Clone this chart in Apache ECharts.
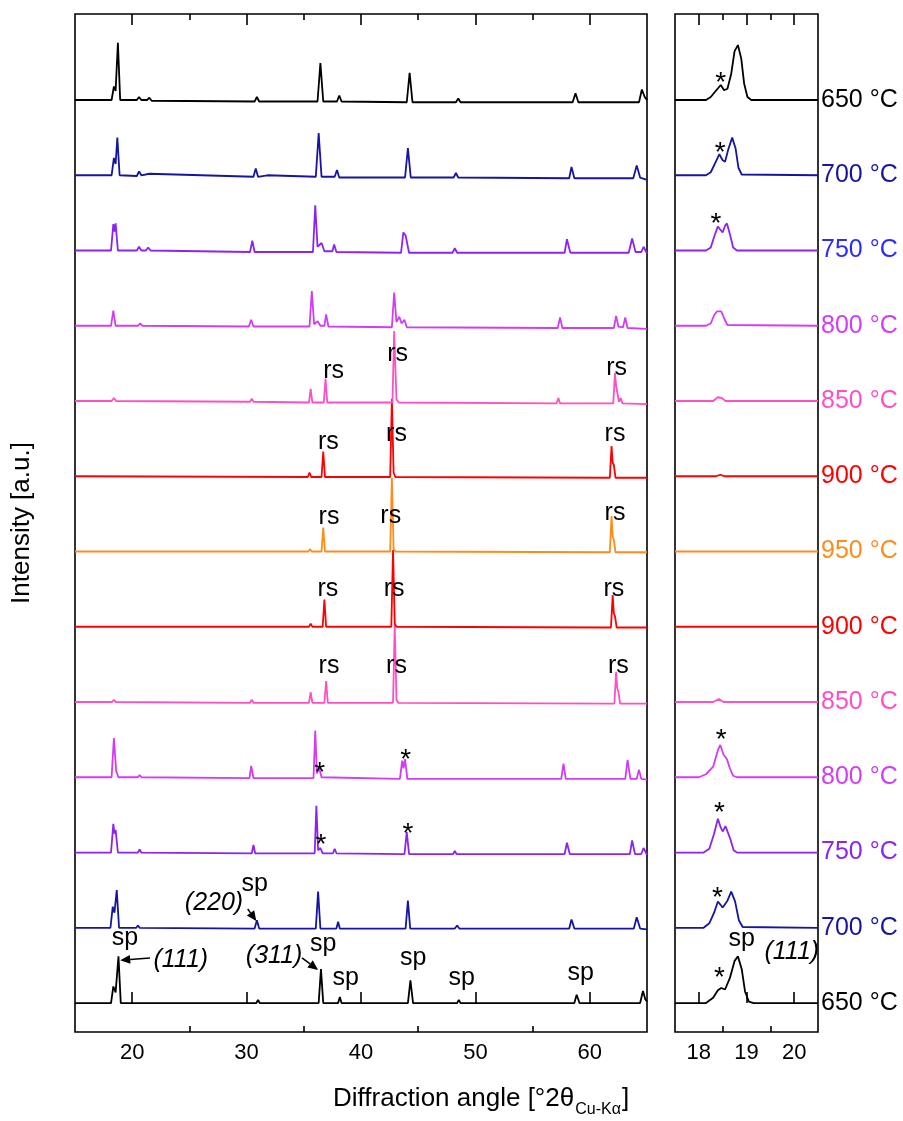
<!DOCTYPE html>
<html><head><meta charset="utf-8">
<script src="https://cdn.jsdelivr.net/npm/echarts@6/dist/echarts.min.js"></script>
<style>html,body{margin:0;padding:0;background:#fff}#c{width:903px;height:1121px}</style>
</head><body><div id="c"></div>
<script>
// ---------------- DATA (intensity in units of the trace spacing) ----------------
const tempLabels = ['650 °C','700 °C','750 °C','800 °C','850 °C','900 °C','950 °C','900 °C','850 °C','800 °C','750 °C','700 °C','650 °C'];
const lineColors = ['#000000','#1515a0','#8b24f0','#d23cf5','#ff4fc4','#ff0000','#ff8c1a','#ff0000','#ff4fc4','#d23cf5','#8b24f0','#1515a0','#000000'];
const labelColors = ['#000000','#1515a0','#8b24f0','#d23cf5','#ff4fc4','#ff0000','#ff8c1a','#ff0000','#ff4fc4','#d23cf5','#2b2bff','#1515a0','#000000'];

const leftTicksMajor = [20,30,40,50,60];
const leftTicksMinor = [25,35,45,55];
const rightTicksMajor = [18,19,20];
const rightTicksMinor = [18.5,19.5];

// wide-range patterns (bottom to top)
const heat650L = [[15,0],[18.15,0],[18.35,0.22],[18.55,0.14],[18.8,0.62],[19.0,0],[20.6,0],[20.75,0.02],[20.9,0],[30.85,0],[31.0,0.04],[31.15,0],[36.3,0],[36.5,0.45],[36.7,0],[38.0,0],[38.15,0.08],[38.3,0],[44.1,0],[44.32,0.3],[44.55,0],[48.4,0],[48.55,0.04],[48.7,0],[58.65,0],[58.85,0.11],[59.1,0],[64.4,0],[64.65,0.16],[64.85,0.05],[65,0.02]];
const heat700L = [[15,0],[18.1,0],[18.3,0.28],[18.45,0.2],[18.65,0.5],[18.85,0],[20.35,0],[20.5,0.03],[20.65,0],[30.7,-0.01],[30.9,0.1],[31.1,-0.01],[36.05,-0.01],[36.25,0.48],[36.45,-0.01],[37.85,-0.01],[38.0,0.08],[38.15,-0.01],[43.9,-0.01],[44.1,0.36],[44.3,-0.01],[48.2,-0.01],[48.4,0.03],[48.6,-0.01],[58.2,-0.01],[58.4,0.11],[58.65,-0.01],[63.85,-0.01],[64.1,0.14],[64.4,-0.01],[65,-0.02]];
const heat750L = [[15,0],[18.15,0],[18.35,0.38],[18.45,0.25],[18.55,0.3],[18.75,0],[20.5,0],[20.65,0.04],[20.8,0],[30.45,-0.01],[30.6,0.1],[30.75,-0.01],[35.95,-0.01],[36.1,0.62],[36.25,0.03],[36.45,0.06],[36.65,-0.01],[37.55,-0.01],[37.7,0.05],[37.85,-0.01],[43.8,-0.02],[44.0,0.27],[44.2,-0.02],[48.05,-0.02],[48.2,0.02],[48.35,-0.02],[57.8,-0.02],[58.0,0.13],[58.25,-0.02],[63.5,-0.02],[63.7,0.16],[63.95,-0.02],[64.5,-0.02],[64.7,0.06],[65,-0.03]];
const heat800L = [[15,0],[18.2,0],[18.4,0.52],[18.6,0.08],[18.8,0],[20.5,0],[20.65,0.03],[20.8,0],[30.25,-0.01],[30.4,0.15],[30.6,-0.01],[35.85,-0.01],[36.0,0.62],[36.15,0.05],[36.35,0.12],[36.55,0],[43.4,-0.02],[43.6,0.22],[43.72,0.12],[43.85,0.24],[44.05,-0.02],[57.5,-0.02],[57.7,0.18],[57.9,-0.02],[63.1,-0.02],[63.3,0.23],[63.55,-0.02],[64.1,-0.02],[64.3,0.1],[64.5,-0.02],[65,-0.03]];
const heat850L = [[15,0],[18.25,0],[18.4,0.03],[18.55,0],[30.3,-0.01],[30.45,0.03],[30.6,-0.01],[35.45,-0.01],[35.6,0.13],[35.75,-0.01],[36.8,-0.01],[36.95,0.28],[37.1,-0.01],[42.8,-0.01],[42.95,1.03],[43.1,0.03],[43.25,-0.01],[62.15,-0.02],[62.3,0.4],[62.4,0.18],[62.5,0.14],[62.65,-0.02],[65,-0.02]];
const heat900L = [[15,0],[35.45,0],[35.6,0.04],[35.75,0],[36.65,0],[36.8,0.36],[36.95,0],[42.65,0],[42.8,1.02],[42.95,0.04],[43.1,0],[61.85,-0.01],[62.0,0.42],[62.1,0.18],[62.2,0.14],[62.35,-0.01],[65,-0.01]];
const heat950L = [[15,0],[35.4,0],[35.55,0.03],[35.7,0],[36.55,0],[36.7,0.32],[36.85,0],[42.55,0],[42.7,0.98],[42.85,0.04],[43.0,0],[61.75,-0.01],[61.9,0.47],[62.0,0.2],[62.1,0.15],[62.25,-0.01],[65,-0.01]];
const cool900L = [[15,0],[35.35,-0.01],[35.5,0.05],[35.65,-0.01],[36.55,-0.01],[36.7,0.33],[36.85,-0.01],[42.55,-0.01],[42.7,1.03],[42.85,0.05],[43.0,-0.01],[61.75,-0.02],[61.9,0.4],[62.0,0.18],[62.1,0.15],[62.25,-0.02],[65,-0.02]];
const cool850L = [[15,0],[18.2,0],[18.4,0.04],[18.6,0],[30.3,-0.01],[30.45,0.03],[30.6,-0.01],[35.45,-0.02],[35.6,0.16],[35.75,-0.02],[36.75,-0.02],[36.9,0.3],[37.05,-0.02],[42.75,-0.02],[42.9,0.93],[43.1,0.02],[43.3,-0.02],[57.1,-0.03],[57.25,0.04],[57.4,-0.03],[62.05,-0.03],[62.2,0.37],[62.3,0.2],[62.4,0.18],[62.55,-0.01],[62.7,0.04],[62.85,-0.03],[65,-0.04]];
const cool800L = [[15,0],[18.15,0],[18.35,0.2],[18.55,0],[20.5,0],[20.7,0.03],[20.9,0],[30.2,-0.01],[30.4,0.08],[30.6,-0.01],[35.5,-0.01],[35.7,0.46],[35.9,0.02],[36.2,0.06],[36.45,0.0],[36.8,0],[36.95,0.15],[37.15,-0.01],[42.7,-0.02],[42.9,0.44],[43.1,0.05],[43.35,0.12],[43.55,0.03],[43.8,0.08],[44.0,-0.02],[57.2,-0.03],[57.4,0.11],[57.6,-0.03],[62.1,-0.03],[62.3,0.13],[62.5,-0.01],[62.9,-0.02],[63.1,0.11],[63.3,-0.03],[65,-0.04]];
const cool750L = [[15,0],[18.15,0],[18.35,0.35],[18.45,0.25],[18.55,0.36],[18.75,0],[20.4,0],[20.6,0.05],[20.8,0],[21.2,0],[21.4,0.04],[21.6,0],[30.3,-0.02],[30.5,0.13],[30.7,-0.02],[35.8,-0.02],[36.0,0.6],[36.2,0.05],[36.55,0.1],[36.8,-0.01],[37.5,-0.01],[37.65,0.08],[37.85,-0.02],[43.5,-0.03],[43.7,0.24],[43.9,0.2],[44.2,-0.03],[48.0,-0.03],[48.2,0.03],[48.4,-0.03],[57.8,-0.03],[58.0,0.15],[58.3,-0.03],[63.4,-0.03],[63.7,0.16],[64.0,-0.02],[64.5,-0.02],[64.7,0.05],[65,-0.04]];
const cool700L = [[15,0],[18.2,0],[18.4,0.23],[18.55,0.15],[18.7,0.5],[18.9,0],[20.4,-0.01],[20.6,0.05],[20.8,0],[21.5,0.02],[30.6,-0.02],[30.8,0.09],[31.0,-0.02],[31.8,0],[36.05,-0.02],[36.3,0.56],[36.55,-0.02],[37.7,-0.02],[37.9,0.07],[38.1,-0.03],[43.85,-0.03],[44.1,0.36],[44.35,-0.03],[48.1,-0.03],[48.3,0.03],[48.5,-0.03],[58.2,-0.04],[58.4,0.11],[58.65,-0.04],[63.8,-0.04],[64.1,0.13],[64.4,-0.03],[65,-0.06]];
const cool650L = [[15,0],[18.2,0],[18.4,0.18],[18.55,0.12],[18.75,0.76],[18.95,0],[20.4,0],[20.6,0.04],[20.8,0],[21.3,0],[21.5,0.03],[21.7,-0.01],[30.7,-0.02],[30.9,0.04],[31.1,-0.02],[36.2,-0.02],[36.45,0.49],[36.7,-0.02],[37.9,-0.02],[38.1,0.06],[38.3,-0.02],[44.0,-0.03],[44.25,0.36],[44.5,-0.03],[48.3,-0.03],[48.5,0.02],[48.7,-0.03],[58.5,-0.03],[58.75,0.09],[59.0,-0.03],[64.3,-0.03],[64.55,0.14],[64.8,0.04],[65,0.0]];

// zoomed (111) region patterns (bottom to top)
const heat650R = [[17.5,0],[18.15,0],[18.3,0.07],[18.4,0.17],[18.47,0.2],[18.55,0.18],[18.65,0.33],[18.75,0.56],[18.82,0.62],[18.9,0.45],[18.97,0.15],[19.05,0.02],[19.15,0],[20.5,0]];
const heat700R = [[17.5,0],[18.1,0],[18.22,0.06],[18.32,0.2],[18.4,0.35],[18.5,0.27],[18.6,0.36],[18.68,0.48],[18.76,0.35],[18.84,0.1],[18.92,0.01],[20.5,0]];
const heat750R = [[17.5,0],[18.1,0],[18.22,0.05],[18.32,0.25],[18.4,0.45],[18.46,0.33],[18.5,0.28],[18.56,0.35],[18.6,0.35],[18.66,0.18],[18.73,0.03],[18.8,0],[20.5,0]];
const heat800R = [[17.5,0],[18.0,0],[18.15,0.04],[18.3,0.14],[18.4,0.36],[18.45,0.43],[18.52,0.3],[18.59,0.24],[18.65,0.12],[18.72,0.02],[18.8,0],[20.5,0]];
const heat850R = [[17.5,0],[18.3,0],[18.42,0.04],[18.52,0],[20.5,0]];
const heat900R = [[17.5,0],[20.5,0]];
const heat950R = [[17.5,0],[20.5,0]];
const cool900R = [[17.5,0],[18.35,0],[18.45,0.02],[18.55,0],[20.5,0]];
const cool850R = [[17.5,0],[18.3,0],[18.4,0.05],[18.48,0.04],[18.56,0],[20.5,0]];
const cool800R = [[17.5,0],[18.15,0],[18.25,0.03],[18.32,0.14],[18.38,0.19],[18.47,0.19],[18.53,0.1],[18.6,0.01],[20.5,0]];
const cool750R = [[17.5,0],[18.15,0],[18.25,0.04],[18.33,0.2],[18.4,0.32],[18.46,0.27],[18.5,0.24],[18.55,0.33],[18.59,0.36],[18.65,0.22],[18.72,0.04],[18.8,0],[20.5,0]];
const cool700R = [[17.5,0],[18.15,0],[18.25,0.04],[18.35,0.17],[18.43,0.28],[18.5,0.2],[18.55,0.18],[18.62,0.35],[18.7,0.5],[18.77,0.36],[18.83,0.1],[18.9,0.01],[20.5,0]];
const cool650R = [[17.5,0],[18.15,0],[18.25,0.04],[18.38,0.14],[18.46,0.2],[18.53,0.13],[18.6,0.15],[18.68,0.35],[18.75,0.65],[18.82,0.73],[18.89,0.55],[18.95,0.22],[19.02,0.04],[19.1,0],[20.5,0]];

// annotations: [trace index (0 = bottom), 2θ, height above trace baseline, text, italic?]
const notesLeft = [
  [8,37.6,0.37,'rs'],[8,43.2,0.6,'rs'],[8,62.35,0.41,'rs'],
  [7,37.15,0.43,'rs'],[7,43.1,0.54,'rs'],[7,62.2,0.54,'rs'],
  [6,37.2,0.43,'rs'],[6,42.6,0.45,'rs'],[6,62.2,0.49,'rs'],
  [5,37.1,0.47,'rs'],[5,42.9,0.47,'rs'],[5,62.1,0.47,'rs'],
  [4,37.2,0.45,'rs'],[4,43.1,0.45,'rs'],[4,62.5,0.45,'rs'],
  [3,36.4,0.15,'*'],[3,43.9,0.32,'*'],
  [2,36.5,0.19,'*'],[2,44.1,0.33,'*'],
  [1,27.15,0.33,'(220)',true],[1,30.7,0.53,'sp'],
  [0,19.37,0.81,'sp'],[0,24.25,0.57,'(111)',true],[0,32.4,0.62,'(311)',true],[0,36.7,0.73,'sp'],
  [0,38.67,0.28,'sp'],[0,44.57,0.55,'sp'],[0,48.8,0.28,'sp'],[0,59.2,0.35,'sp']
];
const notesRight = [
  [12,18.46,0.31,'*'],[11,18.45,0.39,'*'],[10,18.36,0.44,'*'],
  [3,18.47,0.59,'*'],[2,18.43,0.62,'*'],[1,18.39,0.48,'*'],[0,18.43,0.42,'*'],
  [0,18.9,0.8,'sp'],[0,19.95,0.68,'(111)',true]
];
// arrows: [trace index, from 2θ, from height, to 2θ, to height]
const arrowsLeft = [
  [0,21.55,0.6,18.95,0.57],
  [0,34.84,0.6,36.25,0.44],
  [1,30.1,0.25,30.85,0.09]
];

const leftPatterns = [heat650L,heat700L,heat750L,heat800L,heat850L,heat900L,heat950L,cool900L,cool850L,cool800L,cool750L,cool700L,cool650L];
const rightPatterns = [heat650R,heat700R,heat750R,heat800R,heat850R,heat900R,heat950R,cool900R,cool850R,cool800R,cool750R,cool700R,cool650R];

// ---------------- CHART ----------------
const FONT = '"Liberation Sans", Arial, sans-serif';
const chart = echarts.init(document.getElementById('c'), null, {renderer:'canvas'});

function xAxisDef(grid, min, max, pos, ticks, len, labels){
  return {
    type:'value', gridIndex:grid, min:min, max:max, position:pos,
    axisLine:{show:false}, splitLine:{show:false},
    axisTick:{show:true, inside:true, length:len, customValues:ticks, lineStyle:{color:'#000', width:1.6}},
    axisLabel: labels ? {show:true, customValues:ticks, fontSize:22, color:'#000', fontFamily:FONT, margin:10} : {show:false}
  };
}

const xAxes = [
  xAxisDef(0,15,65,'bottom',leftTicksMajor,11,true),
  xAxisDef(0,15,65,'bottom',leftTicksMinor,6,false),
  xAxisDef(0,15,65,'top',leftTicksMajor,11,false),
  xAxisDef(0,15,65,'top',leftTicksMinor,6,false),
  xAxisDef(1,17.5,20.5,'bottom',rightTicksMajor,11,true),
  xAxisDef(1,17.5,20.5,'bottom',rightTicksMinor,6,false),
  xAxisDef(1,17.5,20.5,'top',rightTicksMajor,11,false),
  xAxisDef(1,17.5,20.5,'top',rightTicksMinor,6,false)
];
const yAxes = [0,1].map(g => ({type:'value', gridIndex:g, min:-0.385, max:13.143, show:false}));

const series = [];
leftPatterns.forEach((pat,i) => {
  series.push({
    type:'line', xAxisIndex:0, yAxisIndex:0, symbol:'none', silent:true, animation:false,
    data: pat.map(p => [p[0], p[1] + i]),
    lineStyle:{color:lineColors[i], width:1.8}
  });
});
rightPatterns.forEach((pat,i) => {
  series.push({
    type:'line', xAxisIndex:4, yAxisIndex:1, symbol:'none', silent:true, animation:false,
    data: pat.map(p => [p[0], p[1] + i]),
    lineStyle:{color:lineColors[i], width:1.8},
    endLabel:{show:true, formatter:tempLabels[i], color:labelColors[i], fontSize:25, fontFamily:FONT, distance:3}
  });
});

function noteOffset(t){
  if (t === '*') return [0,7];
  if (t === 'sp') return [0,-4];
  if (t === 'rs') return [0,-2];
  return [0,0];
}
function noteSeries(notes, xi, yi){
  return {
    type:'custom', xAxisIndex:xi, yAxisIndex:yi, silent:true, animation:false, clip:false, z:5,
    data: notes.map((n,k) => [n[1], n[2] + n[0], k]),
    encode:{x:0, y:1},
    renderItem: function(params, api){
      const n = notes[api.value(2)];
      const p = api.coord([api.value(0), api.value(1)]);
      const off = noteOffset(n[3]);
      return {
        type:'text', x:p[0] + off[0], y:p[1] + off[1],
        style:{text:n[3], fill:'#000', fontSize: n[3] === '*' ? 28 : 25, fontFamily:FONT,
               fontStyle: n[4] ? 'italic' : 'normal', align:'center', verticalAlign:'middle'}
      };
    }
  };
}
function arrowSeries(arrows, xi, yi){
  return {
    type:'custom', xAxisIndex:xi, yAxisIndex:yi, silent:true, animation:false, clip:false, z:6,
    data: arrows.map(a => [a[1], a[2] + a[0], a[3], a[4] + a[0]]),
    encode:{x:[0,2], y:[1,3]},
    renderItem: function(params, api){
      const p1 = api.coord([api.value(0), api.value(1)]);
      const p2 = api.coord([api.value(2), api.value(3)]);
      const dx = p2[0] - p1[0], dy = p2[1] - p1[1];
      const L = Math.sqrt(dx*dx + dy*dy), ux = dx / L, uy = dy / L;
      const hl = 10, hw = 4.5;
      const bx = p2[0] - ux*hl, by = p2[1] - uy*hl;
      return {
        type:'group', children:[
          {type:'line', shape:{x1:p1[0], y1:p1[1], x2:bx, y2:by}, style:{stroke:'#000', lineWidth:1.5}},
          {type:'polygon', shape:{points:[[p2[0],p2[1]],[bx - uy*hw, by + ux*hw],[bx + uy*hw, by - ux*hw]]}, style:{fill:'#000'}}
        ]
      };
    }
  };
}
series.push(noteSeries(notesLeft, 0, 0));
series.push(noteSeries(notesRight, 4, 1));
series.push(arrowSeries(arrowsLeft, 0, 0));

// measure widths for the x-axis title with subscript
const mctx = document.createElement('canvas').getContext('2d');
function tw(txt, size){ mctx.font = size + 'px ' + FONT; return mctx.measureText(txt).width; }
const tMain = 'Diffraction angle [°2θ', tSub = 'Cu-Kα', tEnd = ']';
const titleLeft = 333, titleTop = 1086;
const wMain = tw(tMain, 26), wSub = tw(tSub, 16);

chart.setOption({
  animation:false,
  backgroundColor:'#ffffff',
  grid:[
    {left:75, top:14, width:572, height:1018, show:true, borderColor:'#000', borderWidth:1.6, backgroundColor:'transparent'},
    {left:675, top:14, width:143, height:1018, show:true, borderColor:'#000', borderWidth:1.6, backgroundColor:'transparent'}
  ],
  xAxis:xAxes,
  yAxis:yAxes,
  series:series,
  graphic:[
    {type:'text', x:22, y:523, rotation:Math.PI/2,
     style:{text:'Intensity [a.u.]', fontSize:26, fontFamily:FONT, fill:'#000', align:'center', verticalAlign:'middle'}},
    {type:'text', x:titleLeft, y:titleTop,
     style:{text:tMain, fontSize:26, fontFamily:FONT, fill:'#000', align:'left', verticalAlign:'top'}},
    {type:'text', x:titleLeft + wMain + 1, y:titleTop + 16,
     style:{text:tSub, fontSize:16, fontFamily:FONT, fill:'#000', align:'left', verticalAlign:'top'}},
    {type:'text', x:titleLeft + wMain + wSub + 2, y:titleTop,
     style:{text:tEnd, fontSize:26, fontFamily:FONT, fill:'#000', align:'left', verticalAlign:'top'}}
  ]
});
</script>
</body></html>
